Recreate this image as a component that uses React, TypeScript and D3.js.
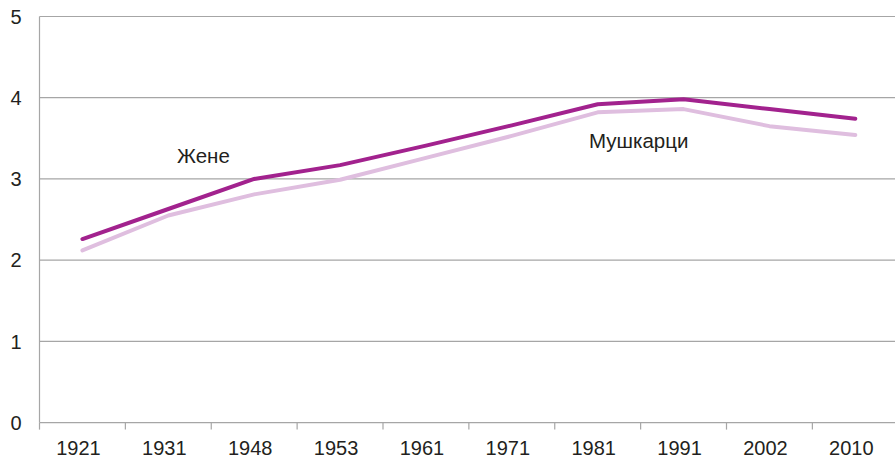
import { useEffect, useRef } from 'react'
import * as d3 from 'd3'

// ─── Data ─────────────────────────────────────────────────────────────────────

const YEARS = ['1921', '1931', '1948', '1953', '1961', '1971', '1981', '1991', '2002', '2010']
const WOMEN = [2.26, 2.63, 3.0, 3.17, 3.41, 3.66, 3.92, 3.98, 3.86, 3.74]
const MEN = [2.12, 2.55, 2.81, 2.99, 3.26, 3.53, 3.82, 3.86, 3.65, 3.54]
const Y_TICKS = [0, 1, 2, 3, 4, 5]

// ─── Constants ────────────────────────────────────────────────────────────────

const W = 895
const H = 458
const PLOT = { left: 39.5, top: 16.5, bottom: 422.6, step: 85.875 }
const DARK = '#A2228E'
const LIGHT = '#DFBEDF'
const GRID = '#A6A6A6'
const TEXT = '#231F20'
const FONT = '"Liberation Sans", Arial, sans-serif'

export default function App() {
  const svgRef = useRef<SVGSVGElement>(null)

  useEffect(() => {
    if (!svgRef.current) return
    const svg = d3.select(svgRef.current)
    svg.selectAll('*').remove()

    const x = d3.scaleBand<string>()
      .domain(YEARS)
      .range([PLOT.left, PLOT.left + PLOT.step * YEARS.length])
    const y = d3.scaleLinear().domain([0, 5]).range([PLOT.bottom, PLOT.top])
    const cx = (d: string) => (x(d) ?? 0) + x.bandwidth() / 2

    // gridlines
    svg.append('g')
      .selectAll('line')
      .data(Y_TICKS.filter((t) => t > 0))
      .join('line')
      .attr('x1', PLOT.left).attr('x2', W)
      .attr('y1', (d) => y(d)).attr('y2', (d) => y(d))
      .attr('stroke', GRID).attr('stroke-width', 1.2)

    // y axis line
    svg.append('line')
      .attr('x1', PLOT.left).attr('x2', PLOT.left)
      .attr('y1', y(5)).attr('y2', y(0))
      .attr('stroke', GRID).attr('stroke-width', 1.2)

    // x axis line
    svg.append('line')
      .attr('x1', PLOT.left).attr('x2', W)
      .attr('y1', y(0)).attr('y2', y(0))
      .attr('stroke', GRID).attr('stroke-width', 1.2)

    // x tick marks at band boundaries
    const bounds = YEARS.map((d) => x(d) ?? 0).concat([PLOT.left + PLOT.step * YEARS.length])
    svg.append('g')
      .selectAll('line')
      .data(bounds)
      .join('line')
      .attr('x1', (d) => d).attr('x2', (d) => d)
      .attr('y1', y(0)).attr('y2', y(0) + 7)
      .attr('stroke', GRID).attr('stroke-width', 1.2)

    // y labels
    svg.append('g')
      .selectAll('text')
      .data(Y_TICKS)
      .join('text')
      .attr('x', PLOT.left - 18)
      .attr('y', (d) => y(d))
      .attr('dy', '0.36em')
      .attr('text-anchor', 'end')
      .attr('font-family', FONT).attr('font-size', 20).attr('fill', TEXT)
      .text((d) => d)

    // x labels
    svg.append('g')
      .selectAll('text')
      .data(YEARS)
      .join('text')
      .attr('x', (d) => cx(d) - 4)
      .attr('y', 455)
      .attr('text-anchor', 'middle')
      .attr('font-family', FONT).attr('font-size', 20).attr('fill', TEXT)
      .text((d) => d)

    const line = d3.line<number>()
      .x((_, i) => cx(YEARS[i]))
      .y((d) => y(d))

    svg.append('path').datum(MEN)
      .attr('fill', 'none').attr('stroke', LIGHT).attr('stroke-width', 4)
      .attr('stroke-linecap', 'round').attr('stroke-linejoin', 'round')
      .attr('d', line)

    svg.append('path').datum(WOMEN)
      .attr('fill', 'none').attr('stroke', DARK).attr('stroke-width', 4)
      .attr('stroke-linecap', 'round').attr('stroke-linejoin', 'round')
      .attr('d', line)

    // series labels
    svg.append('text')
      .attr('x', 177).attr('y', 163)
      .attr('font-family', FONT).attr('font-size', 20.5).attr('fill', TEXT)
      .text('Жене')
    svg.append('text')
      .attr('x', 589).attr('y', 148)
      .attr('font-family', FONT).attr('font-size', 20.5).attr('fill', TEXT)
      .text('Мушкарци')
  }, [])

  return (
    <div style={{ position: 'fixed', left: 0, top: 0, width: W, height: H, background: '#fff' }}>
      <svg ref={svgRef} width={W} height={H} style={{ display: 'block' }} />
    </div>
  )
}
